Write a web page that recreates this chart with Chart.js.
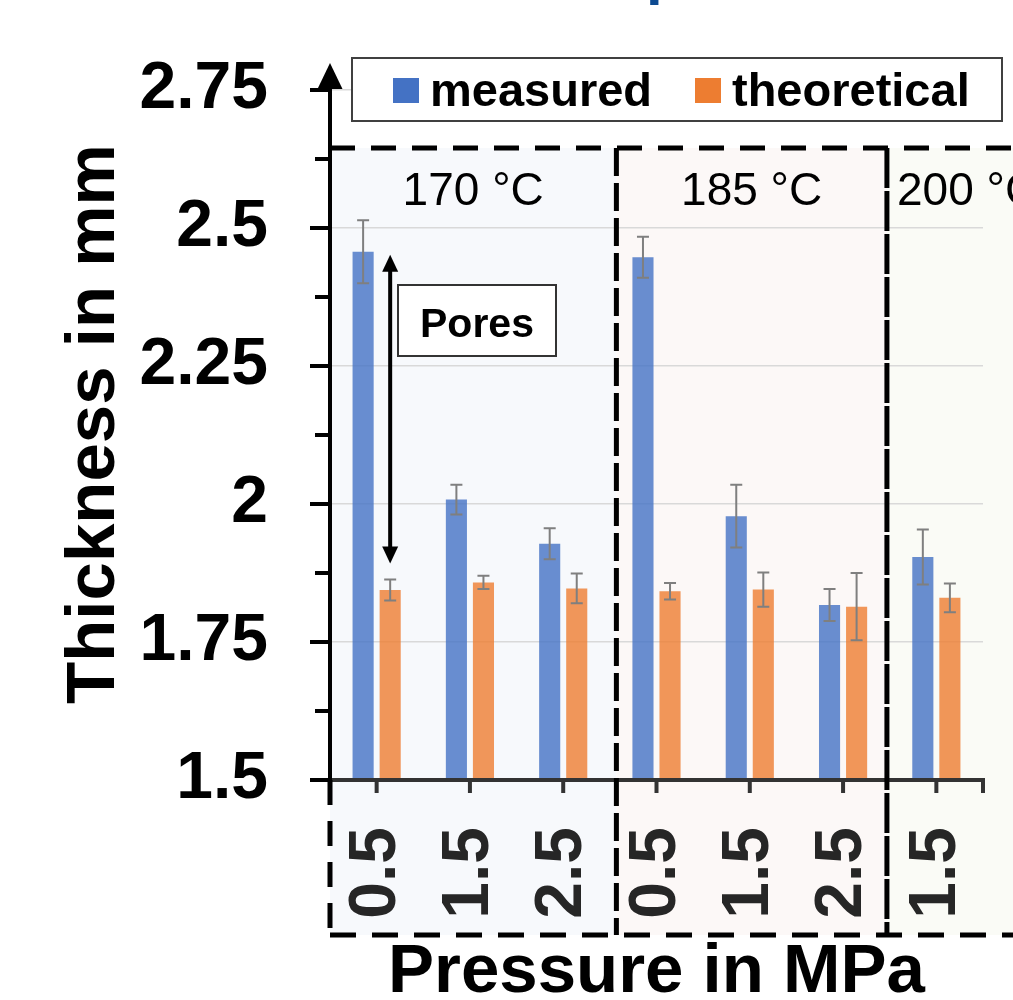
<!DOCTYPE html>
<html>
<head>
<meta charset="utf-8">
<script src="https://cdn.jsdelivr.net/npm/chart.js@4"></script>
<style>
  html, body { margin: 0; padding: 0; background: #fff; }
  canvas { display: block; }
</style>
</head>
<body>
<canvas id="thicknessChart" width="1013" height="1000"></canvas>
<script>
const pressures = ['0.5', '1.5', '2.5', '0.5', '1.5', '2.5', '1.5'];
const measured = [2.457, 2.008, 1.928, 2.447, 1.978, 1.817, 1.904];
const measuredErr = [0.057, 0.027, 0.028, 0.037, 0.057, 0.029, 0.050];
const theoretical = [1.844, 1.858, 1.847, 1.842, 1.845, 1.814, 1.830];
const theoreticalErr = [0.019, 0.012, 0.027, 0.015, 0.031, 0.061, 0.026];
const yTicks = [1.5, 1.75, 2, 2.25, 2.5, 2.75];

const temperatures = ['170 °C', '185 °C', '200 °C'];
const zoneEdges = [-0.5, 2.57, 5.47, 7.2]; // in category index units
const zoneColors = ['#f7f9fc', '#fcf8f7', '#fafbf6'];

const FONT = '"Liberation Sans", Arial, Helvetica, sans-serif';
const FRAME_TOP = 148;
const FRAME_BOTTOM = 935;

Chart.defaults.font.family = FONT;

const dashedLine = (ctx, x1, y1, x2, y2, dash, width) => {
    ctx.save();
    ctx.strokeStyle = '#000';
    ctx.lineWidth = width;
    ctx.setLineDash(dash);
    ctx.beginPath();
    ctx.moveTo(x1, y1);
    ctx.lineTo(x2, y2);
    ctx.stroke();
    ctx.restore();
};

const arrowHead = (ctx, x, tipY, dir, len, half) => {
    ctx.beginPath();
    ctx.moveTo(x, tipY);
    ctx.lineTo(x - half, tipY + dir * len);
    ctx.lineTo(x + half, tipY + dir * len);
    ctx.closePath();
    ctx.fill();
};

// keep the plot area fixed: no extra room for overhanging tick labels
const noOverhang = (scale) => {
    scale.paddingLeft = 0;
    scale.paddingRight = 0;
    scale.paddingTop = 0;
    scale.paddingBottom = 0;
};

// shaded temperature zones behind everything
const zoneBackground = {
    id: 'zoneBackground',
    beforeDraw(chart) {
        const { ctx, scales: { x } } = chart;
        ctx.save();
        ctx.fillStyle = '#fff';
        ctx.fillRect(0, 0, chart.width, chart.height);
        zoneColors.forEach((color, i) => {
            const left = x.getPixelForValue(zoneEdges[i]);
            const right = x.getPixelForValue(zoneEdges[i + 1]);
            ctx.fillStyle = color;
            ctx.fillRect(left, FRAME_TOP, right - left, FRAME_BOTTOM - FRAME_TOP);
        });
        ctx.restore();
    }
};

const errorBars = {
    id: 'errorBars',
    afterDatasetsDraw(chart) {
        const { ctx, scales: { y } } = chart;
        ctx.save();
        ctx.strokeStyle = '#7f7f7f';
        ctx.lineWidth = 2;
        chart.data.datasets.forEach((ds, i) => {
            chart.getDatasetMeta(i).data.forEach((bar, j) => {
                const top = y.getPixelForValue(ds.data[j] + ds.errors[j]);
                const bottom = y.getPixelForValue(ds.data[j] - ds.errors[j]);
                ctx.beginPath();
                ctx.moveTo(bar.x, top);
                ctx.lineTo(bar.x, bottom);
                ctx.moveTo(bar.x - 6, top);
                ctx.lineTo(bar.x + 6, top);
                ctx.moveTo(bar.x - 6, bottom);
                ctx.lineTo(bar.x + 6, bottom);
                ctx.stroke();
            });
        });
        ctx.restore();
    }
};

const decorations = {
    id: 'decorations',
    afterDraw(chart) {
        const { ctx, chartArea: area, scales: { x, y } } = chart;
        ctx.save();

        // x axis line with tick marks at category centres and the far end
        ctx.strokeStyle = '#333';
        ctx.lineWidth = 4;
        ctx.beginPath();
        ctx.moveTo(area.left, area.bottom);
        ctx.lineTo(area.right + 2, area.bottom);
        pressures.forEach((p, i) => {
            const px = x.getPixelForValue(i);
            ctx.moveTo(px, area.bottom);
            ctx.lineTo(px, area.bottom + 13);
        });
        ctx.moveTo(area.right, area.bottom);
        ctx.lineTo(area.right, area.bottom + 13);
        ctx.stroke();

        // dashed frame around the temperature zones
        const frameRight = chart.width + 10;
        dashedLine(ctx, area.left, FRAME_TOP, frameRight, FRAME_TOP, [25, 16], 5);
        dashedLine(ctx, area.left, FRAME_BOTTOM, frameRight, FRAME_BOTTOM, [26, 16], 5);
        dashedLine(ctx, area.left, area.bottom, area.left, FRAME_BOTTOM, [25, 16], 5);
        dashedLine(ctx, x.getPixelForValue(zoneEdges[1]), FRAME_TOP, x.getPixelForValue(zoneEdges[1]), FRAME_BOTTOM, [28, 7], 5);
        dashedLine(ctx, x.getPixelForValue(zoneEdges[2]), FRAME_TOP, x.getPixelForValue(zoneEdges[2]), FRAME_BOTTOM, [40, 3], 5);

        // temperature captions
        ctx.fillStyle = '#000';
        ctx.font = `46px ${FONT}`;
        ctx.textAlign = 'center';
        ctx.textBaseline = 'alphabetic';
        temperatures.forEach((t, i) => {
            const cx = (x.getPixelForValue(zoneEdges[i]) + x.getPixelForValue(zoneEdges[i + 1])) / 2;
            ctx.fillText(t, cx, 205);
        });

        // y axis with arrow, major and minor ticks
        ctx.strokeStyle = '#000';
        ctx.fillStyle = '#000';
        ctx.lineWidth = 4;
        ctx.beginPath();
        ctx.moveTo(area.left, area.bottom + 6);
        ctx.lineTo(area.left, area.top - 4);
        yTicks.forEach((v, i) => {
            const py = y.getPixelForValue(v);
            ctx.moveTo(area.left - 20, py);
            ctx.lineTo(area.left, py);
            if (i < yTicks.length - 1) {
                const my = y.getPixelForValue((v + yTicks[i + 1]) / 2);
                ctx.moveTo(area.left - 15, my);
                ctx.lineTo(area.left, my);
            }
        });
        ctx.stroke();
        arrowHead(ctx, area.left, area.top - 27, 1, 26, 12.5);

        // legend
        ctx.fillStyle = '#fff';
        ctx.fillRect(352, 58, 650, 63);
        ctx.strokeStyle = '#404040';
        ctx.lineWidth = 2;
        ctx.strokeRect(352, 58, 650, 63);
        ctx.font = `bold 47px ${FONT}`;
        ctx.textAlign = 'left';
        const legendX = [393, 695];
        chart.data.datasets.forEach((ds, i) => {
            ctx.fillStyle = ds.legendColor;
            ctx.fillRect(legendX[i], 78, 26, 25);
            ctx.fillStyle = '#000';
            ctx.fillText(ds.label, legendX[i] + 37, 106);
        });

        // "Pores" double arrow between measured and theoretical bar at 170 °C / 0.5 MPa
        const orange = chart.getDatasetMeta(1).data[0];
        const top = y.getPixelForValue(measured[0]) + 3;
        const bottom = y.getPixelForValue(theoretical[0] + theoreticalErr[0]) - 16;
        ctx.strokeStyle = '#000';
        ctx.fillStyle = '#000';
        ctx.lineWidth = 4;
        ctx.beginPath();
        ctx.moveTo(orange.x, top + 14);
        ctx.lineTo(orange.x, bottom - 14);
        ctx.stroke();
        arrowHead(ctx, orange.x, top, 1, 17, 8);
        arrowHead(ctx, orange.x, bottom, -1, 17, 8);

        ctx.fillStyle = '#fff';
        ctx.fillRect(398, 285, 158, 71);
        ctx.strokeStyle = '#333';
        ctx.lineWidth = 2;
        ctx.strokeRect(398, 285, 158, 71);
        ctx.fillStyle = '#000';
        ctx.font = `bold 41px ${FONT}`;
        ctx.textAlign = 'center';
        ctx.fillText('Pores', 477, 337);

        // axis titles
        ctx.font = `bold 69px ${FONT}`;
        ctx.fillText('Pressure in MPa', (area.left + area.right) / 2, 992);
        ctx.save();
        ctx.translate(114, 424);
        ctx.rotate(-Math.PI / 2);
        ctx.fillText('Thickness in mm', 0, 0);
        ctx.restore();

        // heading sits above the top edge, only its descender shows
        ctx.fillStyle = '#0d4a91';
        ctx.font = `bold 60px ${FONT}`;
        ctx.textAlign = 'left';
        ctx.fillText('p', 646, -7);

        ctx.restore();
    }
};

new Chart(document.getElementById('thicknessChart').getContext('2d'), {
    type: 'bar',
    data: {
        labels: pressures,
        datasets: [
            {
                label: 'measured',
                data: measured,
                errors: measuredErr,
                backgroundColor: 'rgba(68, 114, 196, 0.8)',
                legendColor: '#4472c4',
                base: yTicks[0]
            },
            {
                label: 'theoretical',
                data: theoretical,
                errors: theoreticalErr,
                backgroundColor: 'rgba(237, 125, 49, 0.8)',
                legendColor: '#ed7d31',
                base: yTicks[0]
            }
        ]
    },
    options: {
        responsive: false,
        animation: false,
        devicePixelRatio: 1,
        categoryPercentage: 0.58,
        barPercentage: 0.78,
        layout: { padding: { top: 90, right: 30, left: 0, bottom: 0 } },
        plugins: { legend: { display: false }, tooltip: { enabled: false } },
        scales: {
            x: {
                afterFit: (scale) => { scale.height = 220; noOverhang(scale); },
                grid: { display: false, drawTicks: false },
                border: { display: false },
                ticks: {
                    autoSkip: false,
                    minRotation: 90,
                    maxRotation: 90,
                    padding: 47,
                    color: '#262626',
                    font: { size: 66, weight: 'bold' }
                }
            },
            y: {
                min: yTicks[0],
                max: yTicks[yTicks.length - 1],
                afterFit: (scale) => { scale.width = 330; noOverhang(scale); },
                afterBuildTicks: (scale) => { scale.ticks = yTicks.map(v => ({ value: v })); },
                grid: { color: '#d9d9d9', lineWidth: 1.5, drawTicks: false },
                border: { display: false },
                ticks: {
                    padding: 62,
                    color: '#000',
                    font: { size: 66, weight: 'bold' },
                    callback: (value) => String(value)
                }
            }
        }
    },
    plugins: [zoneBackground, errorBars, decorations]
});
</script>
</body>
</html>
